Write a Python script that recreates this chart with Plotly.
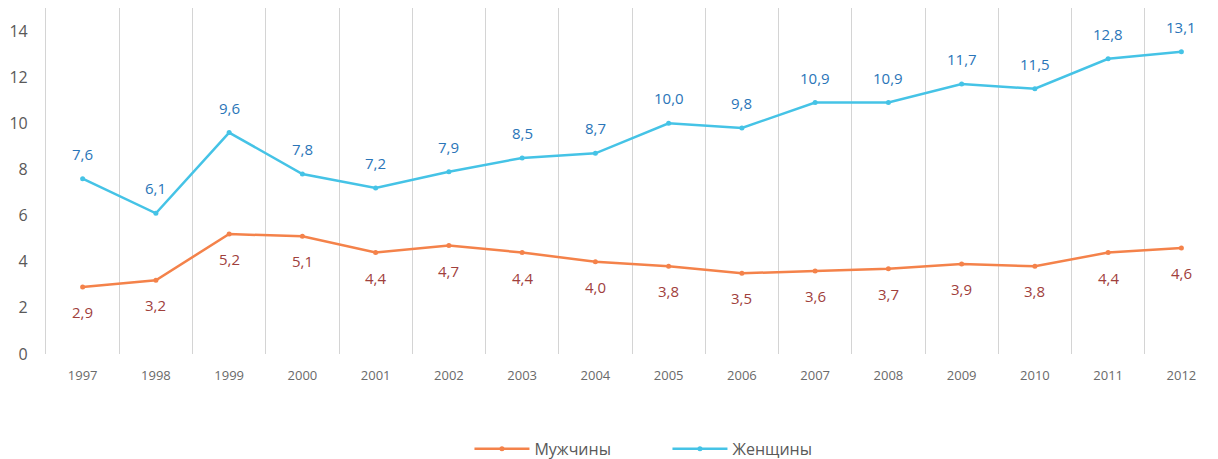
import plotly.graph_objects as go

years = [str(y) for y in range(1997, 2013)]
men = [2.9, 3.2, 5.2, 5.1, 4.4, 4.7, 4.4, 4.0, 3.8, 3.5, 3.6, 3.7, 3.9, 3.8, 4.4, 4.6]
women = [7.6, 6.1, 9.6, 7.8, 7.2, 7.9, 8.5, 8.7, 10.0, 9.8, 10.9, 10.9, 11.7, 11.5, 12.8, 13.1]
y_ticks = [0, 2, 4, 6, 8, 10, 12, 14]

MEN_LINE = "#F4824A"
MEN_TEXT = "#A0403C"
WOMEN_LINE = "#45C3E6"
WOMEN_TEXT = "#2A75B8"
GRID = "#D4D4D4"
FONT = "Open Sans"


def fmt(v):
    return f"{v:.1f}".replace(".", ",")


fig = go.Figure()
fig.add_trace(go.Scatter(
    x=years, y=men, name="Мужчины", mode="lines+markers",
    line=dict(color=MEN_LINE, width=2.5), marker=dict(size=5, color=MEN_LINE),
))
fig.add_trace(go.Scatter(
    x=years, y=women, name="Женщины", mode="lines+markers",
    line=dict(color=WOMEN_LINE, width=2.5), marker=dict(size=5, color=WOMEN_LINE),
))

annotations = []
for i, v in enumerate(women):
    annotations.append(dict(x=i, y=v, xref="x", yref="y", text=fmt(v), showarrow=False,
                            yshift=25, font=dict(family=FONT, size=15, color=WOMEN_TEXT)))
for i, v in enumerate(men):
    annotations.append(dict(x=i, y=v, xref="x", yref="y", text=fmt(v), showarrow=False,
                            yshift=-25, font=dict(family=FONT, size=15, color=MEN_TEXT)))

fig.update_layout(
    width=1218, height=459,
    margin=dict(l=46, r=0, t=8, b=105),
    plot_bgcolor="white", paper_bgcolor="white",
    font=dict(family=FONT, color="#595959"),
    annotations=annotations,
    showlegend=True,
    legend=dict(orientation="h", x=0.548, xref="container", xanchor="center",
                y=0.022, yref="container", yanchor="middle",
                font=dict(family=FONT, size=16, color="#595959"),
                itemwidth=55, tracegroupgap=0, entrywidth=128),
    xaxis=dict(type="category", tickson="boundaries", showgrid=True,
               gridcolor=GRID, gridwidth=1.2, showline=False, ticks="",
               tickfont=dict(family=FONT, size=13, color="#6a6a6a"),
               ticklabelstandoff=12, automargin=False,
               zeroline=False, range=[-0.5, 15.5]),
    yaxis=dict(range=[0, 15], tickvals=y_ticks, showgrid=False, zeroline=False,
               showline=True, linecolor=GRID, linewidth=1.2, ticks="", ticklabelstandoff=14,
               automargin=False,
               tickfont=dict(family=FONT, size=16, color="#595959")),
)

fig.write_html("out.html")
